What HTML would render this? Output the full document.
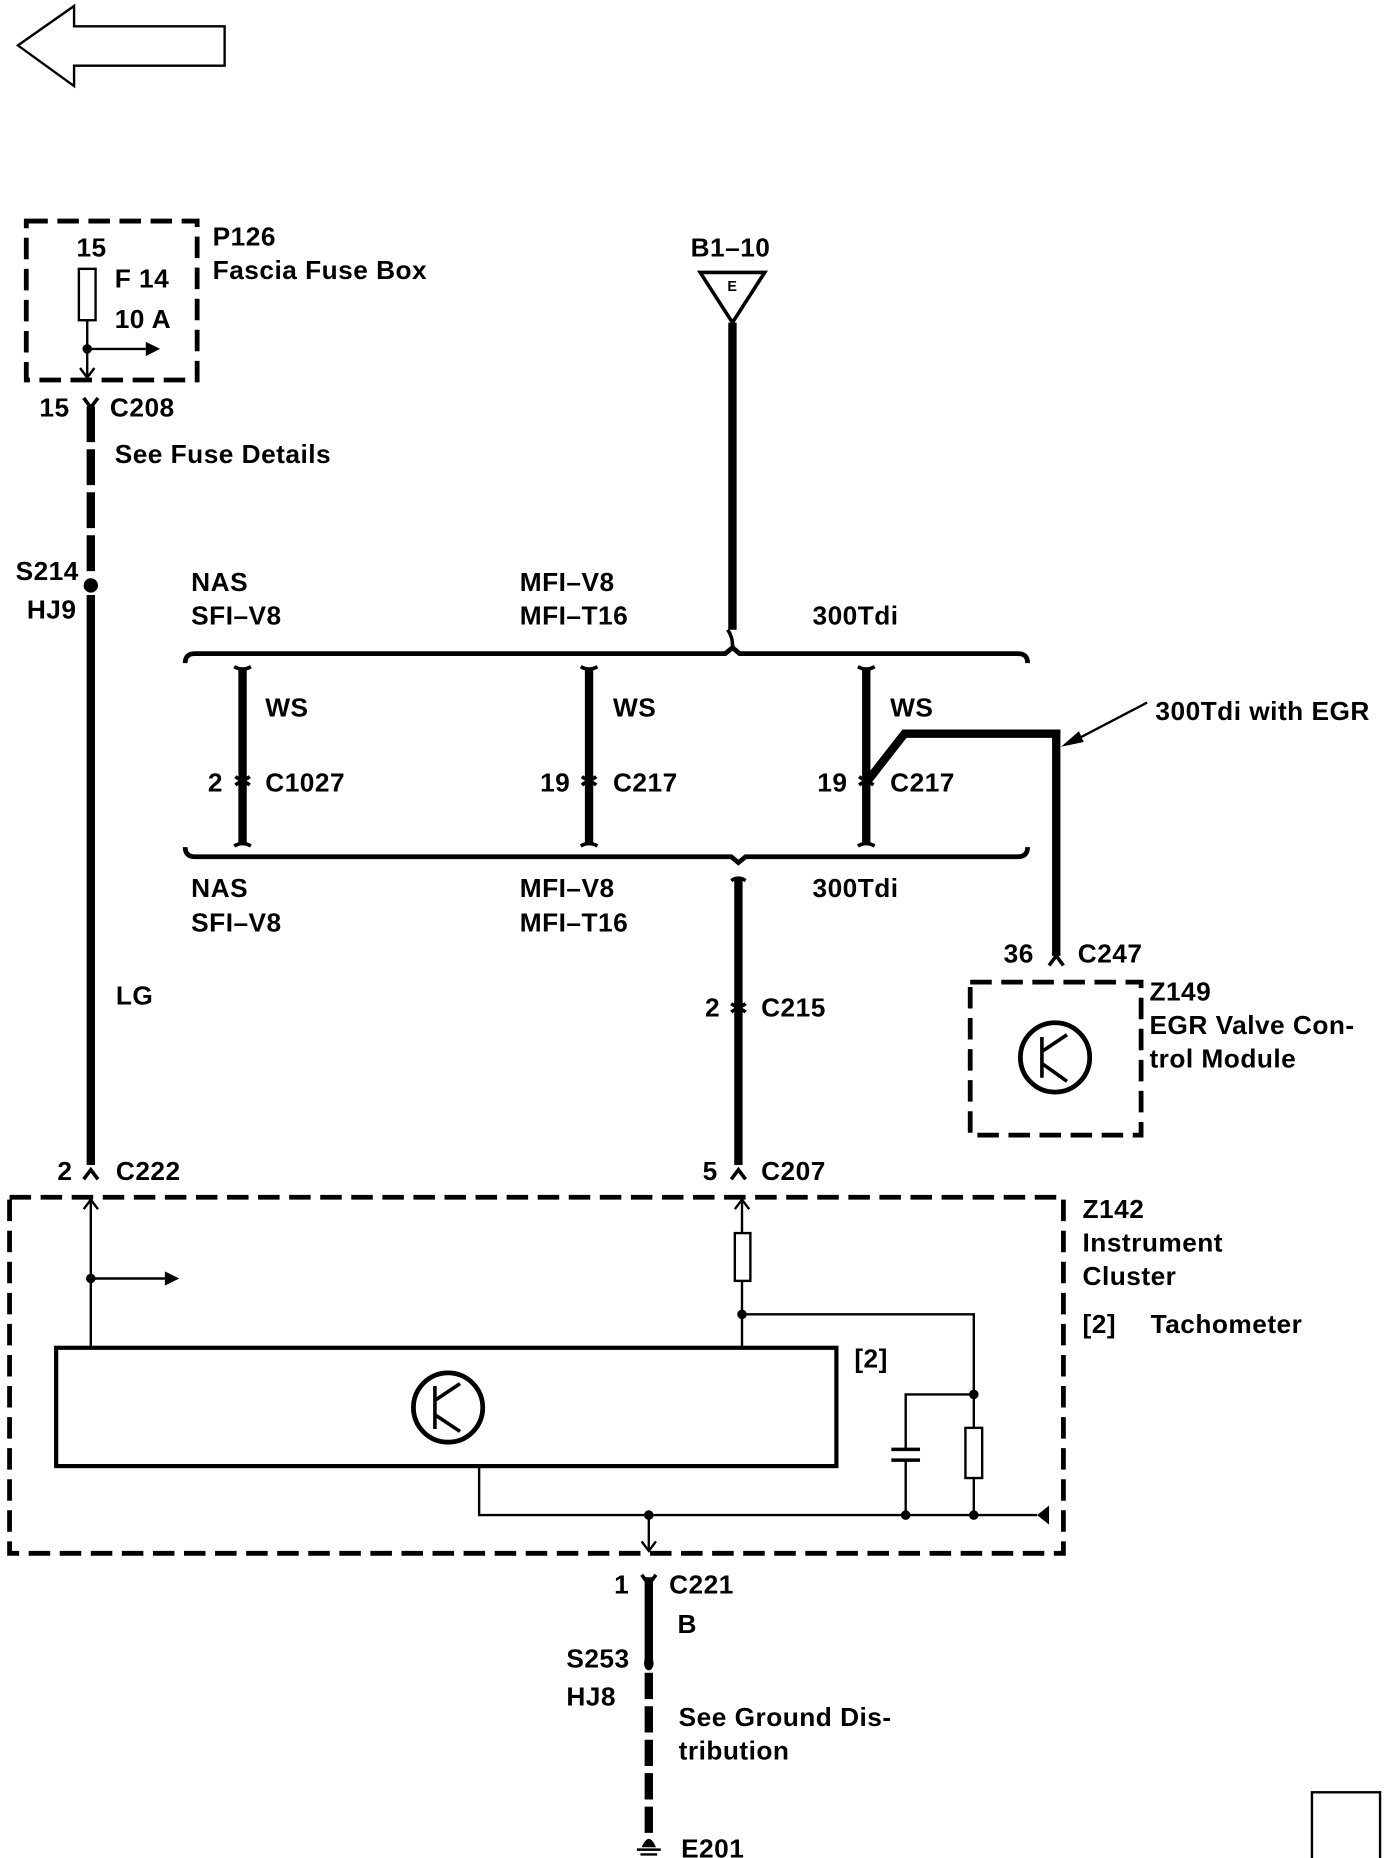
<!DOCTYPE html>
<html><head><meta charset="utf-8"><style>
html,body{margin:0;padding:0;background:#fff;}
svg{display:block;}
text{font-family:"Liberation Sans",sans-serif;font-weight:bold;font-size:22px;letter-spacing:0.4px;fill:#000;dominant-baseline:central;}
</style></head><body>
<svg width="1392" height="1858" viewBox="0 0 1165 1555" xmlns="http://www.w3.org/2000/svg">
<g fill="none" stroke="#000">
<path d="M15,38 L62,5 L62,22 L188,22 L188,55 L62,55 L62,72 Z" stroke-width="2"/>
<rect x="22" y="185" width="143" height="133" stroke-width="4" stroke-dasharray="18,8"/>
<rect x="66" y="225" width="14" height="43" stroke-width="2"/>
<line x1="73" y1="268" x2="73" y2="316" stroke-width="2"/>
<path d="M67,308 L73,316 L79,308" stroke-width="2"/>
<line x1="73" y1="292" x2="122" y2="292" stroke-width="2"/>
<path d="M70,333 L76,341 L82,333" stroke-width="3"/>
<line x1="76" y1="340" x2="76" y2="480" stroke-width="7" stroke-dasharray="30,6"/>
<line x1="76" y1="498" x2="76" y2="975" stroke-width="7"/>
<path d="M70,987 L76,979 L82,987" stroke-width="3"/>
<path d="M586,228 L640,228 L613,270 Z" stroke-width="3"/>
<line x1="613" y1="270" x2="613" y2="527" stroke-width="7"/>
<path d="M609,527 q4,6 4,12 q0,4 4,6" stroke-width="3"/>
<path d="M155,555 q0,-8 8,-8 L607,547 l6,-5 l6,5 L852,547 q8,0 8,8" stroke-width="4"/>
<path d="M155,709 q0,8 8,8 L612,717 l6,5 l6,-5 L852,717 q8,0 8,-8" stroke-width="4"/>
<g stroke-width="7">
<line x1="203" y1="560" x2="203" y2="706"/>
<line x1="493" y1="560" x2="493" y2="706"/>
<line x1="725" y1="560" x2="725" y2="706"/>
<path d="M725,655 L757,614 L884,614 L884,800"/>
<line x1="618" y1="735" x2="618" y2="975"/>
<line x1="543" y1="1320" x2="543" y2="1392"/>
<line x1="543" y1="1400" x2="543" y2="1540" stroke-dasharray="22,6"/>
</g>
<g stroke-width="3">
<path d="M196,558 q7,4 14,0 M196,708 q7,-4 14,0"/>
<path d="M486,558 q7,4 14,0 M486,708 q7,-4 14,0"/>
<path d="M718,558 q7,4 14,0 M718,708 q7,-4 14,0"/>
<path d="M612,737 q6,-4 12,0"/>
<path d="M197,650 q6,5 12,0 M197,657 q6,-5 12,0"/>
<path d="M487,650 q6,5 12,0 M487,657 q6,-5 12,0"/>
<path d="M719,650 q6,5 12,0 M719,657 q6,-5 12,0"/>
<path d="M612,840 q6,5 12,0 M612,847 q6,-5 12,0"/>
<path d="M612,987 L618,979 L624,987"/>
<path d="M878,808 L884,800 L890,808"/>
<path d="M537,1318 L543,1326 L549,1318"/>
</g>
<line x1="960" y1="588" x2="895" y2="622" stroke-width="2"/>
<rect x="812" y="822" width="143" height="128" stroke-width="4" stroke-dasharray="18,8"/>
<circle cx="883" cy="885" r="29" stroke-width="4"/>
<path d="M872,868 L872,902 M872,880 L893,866 M872,890 L893,905" stroke-width="3"/>
<rect x="8" y="1002" width="882" height="298" stroke-width="4" stroke-dasharray="18,8"/>
<line x1="76" y1="1003" x2="76" y2="1128" stroke-width="2"/>
<path d="M70,1012 L76,1004 L82,1012" stroke-width="2"/>
<line x1="76" y1="1070" x2="138" y2="1070" stroke-width="2"/>
<rect x="47" y="1128" width="653" height="99" stroke-width="3.5"/>
<circle cx="375" cy="1178" r="29" stroke-width="4"/>
<path d="M364,1160 L364,1196 M364,1172 L385,1158 M364,1184 L385,1198" stroke-width="3"/>
<line x1="621" y1="1003" x2="621" y2="1128" stroke-width="2"/>
<path d="M615,1012 L621,1004 L627,1012" stroke-width="2"/>
<rect x="615" y="1032" width="13" height="40" fill="#fff" stroke-width="2"/>
<path d="M621,1100 L815,1100 L815,1268" stroke-width="2"/>
<rect x="808" y="1195" width="14" height="42" fill="#fff" stroke-width="2"/>
<path d="M815,1167 L758,1167 L758,1213 M758,1222 L758,1268" stroke-width="2"/>
<path d="M746,1213 L770,1213 M746,1222 L770,1222" stroke-width="3"/>
<path d="M401,1227 L401,1268 L868,1268" stroke-width="2"/>
<line x1="543" y1="1268" x2="543" y2="1298" stroke-width="2"/>
<path d="M537,1290 L543,1298 L549,1290" stroke-width="2"/>
<path d="M533,1548 L553,1548 M536,1552 L550,1552 M539,1556 L547,1556" stroke-width="2"/>
<rect x="1098" y="1500" width="57" height="62" stroke-width="2"/>
</g>
<g fill="#000">
<circle cx="73" cy="292" r="4"/>
<path d="M122,286 L134,292 L122,298 Z"/>
<circle cx="76" cy="490" r="6"/>
<path d="M888,625 L903,612 L907,621 Z"/>
<circle cx="76" cy="1070" r="4"/>
<path d="M138,1064 L150,1070 L138,1076 Z"/>
<circle cx="621" cy="1100" r="4"/>
<circle cx="815" cy="1167" r="4"/>
<circle cx="543" cy="1268" r="4"/>
<circle cx="758" cy="1268" r="4"/>
<circle cx="815" cy="1268" r="4"/>
<path d="M868,1268 L878,1260 L878,1276 Z"/>
<ellipse cx="543" cy="1392" rx="4" ry="6"/>
<path d="M537,1546 q6,-14 12,0 Z"/>
</g>
<text x="178" y="198">P126</text>
<text x="178" y="226">Fascia Fuse Box</text>
<text x="64" y="207">15</text>
<text x="96" y="233">F 14</text>
<text x="96" y="267">10 A</text>
<text x="33" y="341">15</text>
<text x="92" y="341">C208</text>
<text x="96" y="380">See Fuse Details</text>
<text x="66" y="478" text-anchor="end">S214</text>
<text x="64" y="510" text-anchor="end">HJ9</text>
<text x="97" y="833">LG</text>
<text x="48" y="980">2</text>
<text x="97" y="980">C222</text>
<text x="578" y="207">B1–10</text>
<text x="613" y="240" text-anchor="middle" style="font-size:12px">E</text>
<text x="160" y="487">NAS</text>
<text x="160" y="515">SFI–V8</text>
<text x="435" y="487">MFI–V8</text>
<text x="435" y="515">MFI–T16</text>
<text x="680" y="515">300Tdi</text>
<text x="222" y="592">WS</text>
<text x="513" y="592">WS</text>
<text x="745" y="592">WS</text>
<text x="174" y="655">2</text>
<text x="222" y="655">C1027</text>
<text x="452" y="655">19</text>
<text x="513" y="655">C217</text>
<text x="684" y="655">19</text>
<text x="745" y="655">C217</text>
<text x="967" y="595">300Tdi with EGR</text>
<text x="160" y="743">NAS</text>
<text x="160" y="772">SFI–V8</text>
<text x="435" y="743">MFI–V8</text>
<text x="435" y="772">MFI–T16</text>
<text x="680" y="743">300Tdi</text>
<text x="590" y="843">2</text>
<text x="637" y="843">C215</text>
<text x="840" y="798">36</text>
<text x="902" y="798">C247</text>
<text x="962" y="830">Z149</text>
<text x="962" y="858">EGR Valve Con-</text>
<text x="962" y="886">trol Module</text>
<text x="588" y="980">5</text>
<text x="637" y="980">C207</text>
<text x="906" y="1012">Z142</text>
<text x="906" y="1040">Instrument</text>
<text x="906" y="1068">Cluster</text>
<text x="906" y="1108">[2]</text>
<text x="963" y="1108">Tachometer</text>
<text x="715" y="1137">[2]</text>
<text x="514" y="1326">1</text>
<text x="560" y="1326">C221</text>
<text x="567" y="1359">B</text>
<text x="474" y="1388">S253</text>
<text x="474" y="1420">HJ8</text>
<text x="568" y="1437">See Ground Dis-</text>
<text x="568" y="1465">tribution</text>
<text x="570" y="1547">E201</text>
</svg>
</body></html>
